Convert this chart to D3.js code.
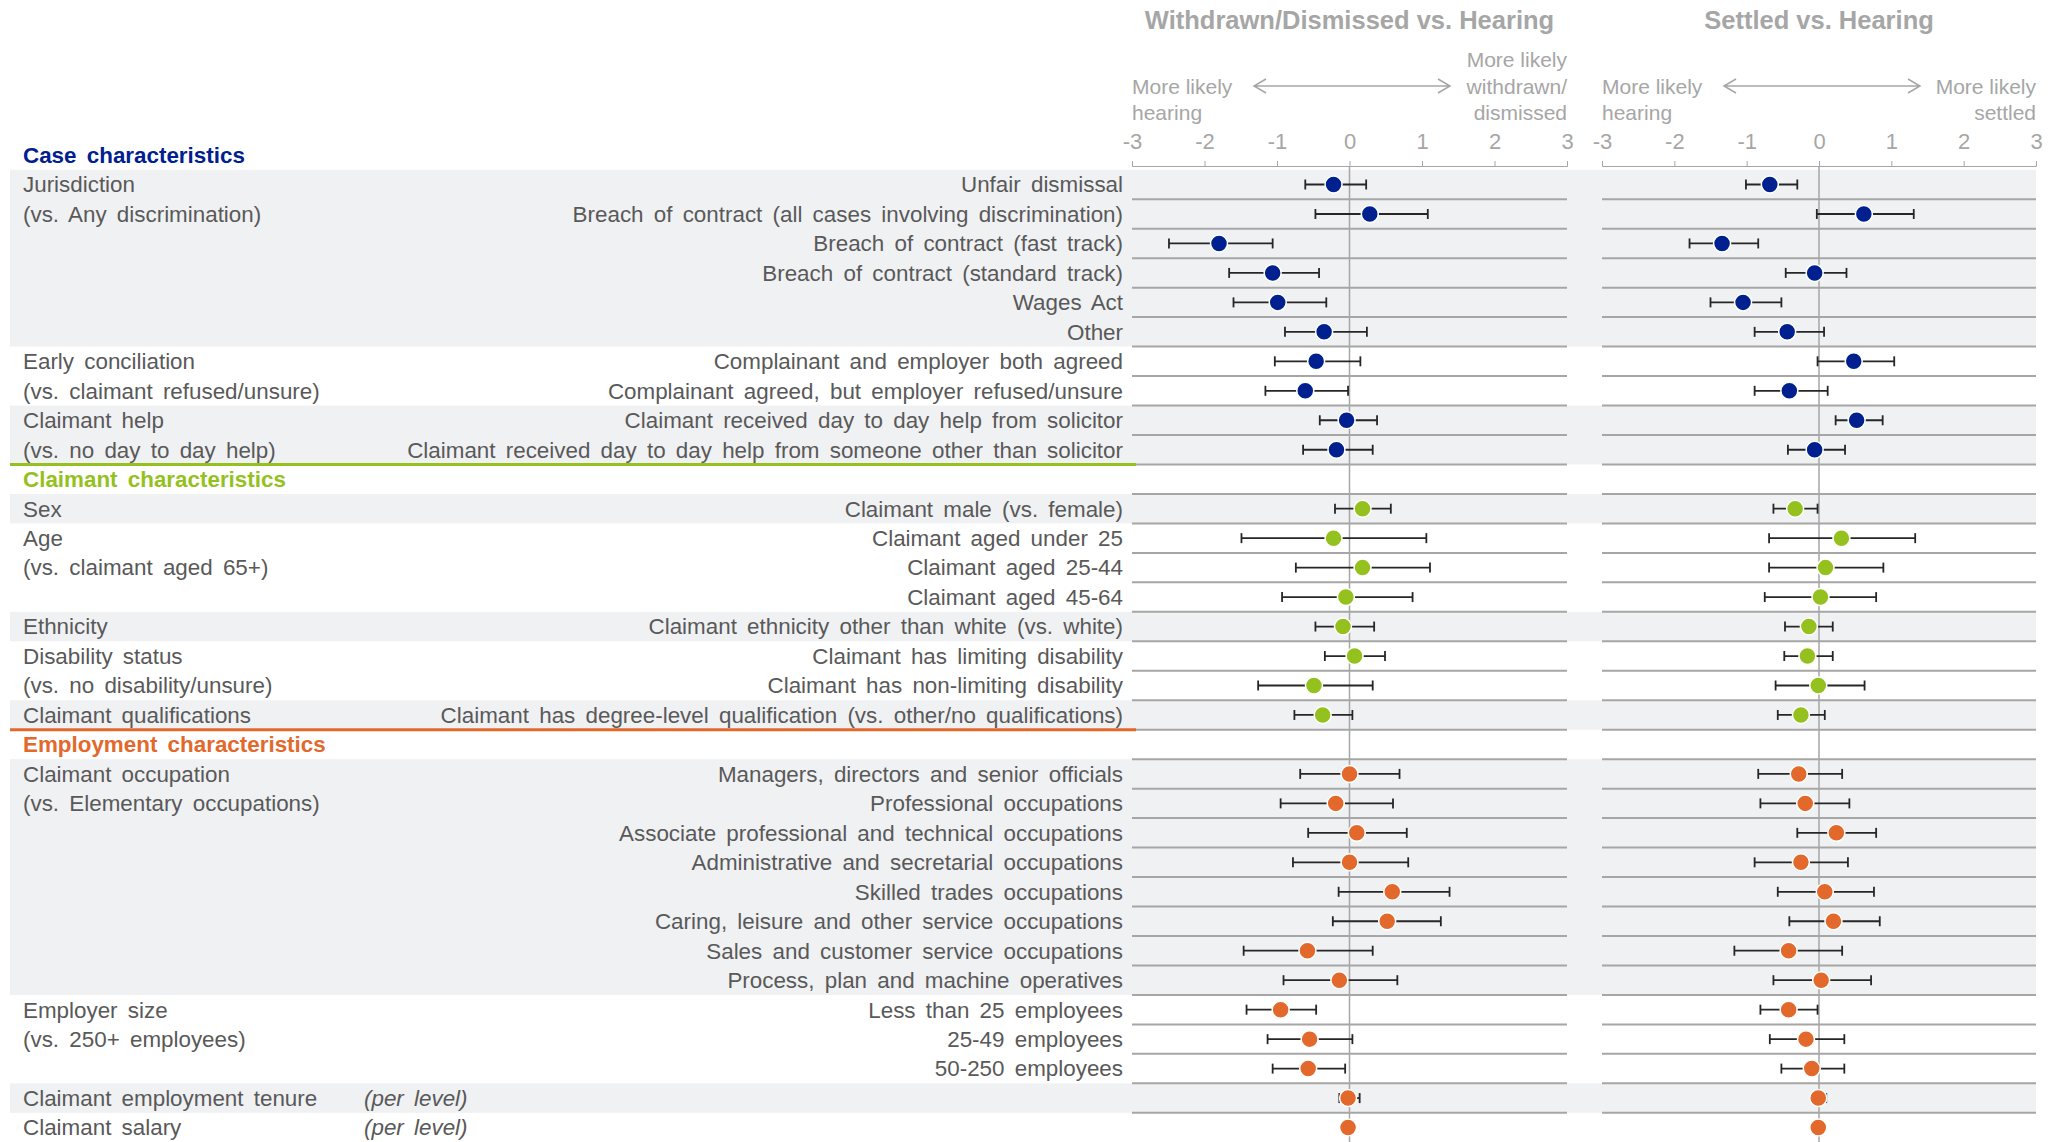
<!DOCTYPE html>
<html>
<head>
<meta charset="utf-8">
<script src="https://cdn.jsdelivr.net/npm/d3@7"></script>
<style>
  body { margin: 0; background: #fff; }
  svg text { font-family: "Liberation Sans", Arial, sans-serif; }
</style>
</head>
<body>
<svg width="2060" height="1142"></svg>
<script>
"use strict";

/* chart data */
var sectionNames = ["Case characteristics", "Claimant characteristics", "Employment characteristics"];

var groupNames = ["Jurisdiction", "Early conciliation", "Claimant help",
  "Sex", "Age", "Ethnicity", "Disability status", "Claimant qualifications",
  "Claimant occupation", "Employer size", "Claimant employment tenure", "Claimant salary"];
var groupNotes = ["(vs. Any discrimination)", "(vs. claimant refused/unsure)", "(vs. no day to day help)",
  "", "(vs. claimant aged 65+)", "", "(vs. no disability/unsure)", "",
  "(vs. Elementary occupations)", "(vs. 250+ employees)", "", ""];
var groupUnits = ["", "", "", "", "", "", "", "", "", "", "(per level)", "(per level)"];
var groupSizes = [6, 2, 2, 1, 3, 1, 2, 1, 8, 3, 1, 1];
var groupSection = [0, 0, 0, 1, 1, 1, 1, 1, 2, 2, 2, 2];

var rowLabels = [
  "Unfair dismissal",
  "Breach of contract (all cases involving discrimination)",
  "Breach of contract (fast track)",
  "Breach of contract (standard track)",
  "Wages Act",
  "Other",
  "Complainant and employer both agreed",
  "Complainant agreed, but employer refused/unsure",
  "Claimant received day to day help from solicitor",
  "Claimant received day to day help from someone other than solicitor",
  "Claimant male (vs. female)",
  "Claimant aged under 25",
  "Claimant aged 25-44",
  "Claimant aged 45-64",
  "Claimant ethnicity other than white (vs. white)",
  "Claimant has limiting disability",
  "Claimant has non-limiting disability",
  "Claimant has degree-level qualification (vs. other/no qualifications)",
  "Managers, directors and senior officials",
  "Professional occupations",
  "Associate professional and technical occupations",
  "Administrative and secretarial occupations",
  "Skilled trades occupations",
  "Caring, leisure and other service occupations",
  "Sales and customer service occupations",
  "Process, plan and machine operatives",
  "Less than 25 employees",
  "25-49 employees",
  "50-250 employees",
  "",
  ""
];

// Withdrawn/Dismissed vs. Hearing
var wdEst  = [-0.22, 0.28, -1.80, -1.06, -0.99, -0.35, -0.46, -0.61, -0.04, -0.18,
  0.18, -0.22, 0.18, -0.05, -0.09, 0.07, -0.49, -0.37,
  0.00, -0.19, 0.10, 0.00, 0.59, 0.52, -0.58, -0.14, -0.95, -0.55, -0.57, -0.02, -0.02];
var wdLow  = [-0.61, -0.47, -2.49, -1.66, -1.60, -0.89, -1.03, -1.16, -0.41, -0.64,
  -0.20, -1.49, -0.74, -0.93, -0.47, -0.34, -1.26, -0.76,
  -0.68, -0.95, -0.57, -0.78, -0.15, -0.23, -1.46, -0.91, -1.42, -1.13, -1.06, -0.14, -0.03];
var wdHigh = [0.23, 1.08, -1.06, -0.42, -0.32, 0.24, 0.15, -0.02, 0.38, 0.32,
  0.57, 1.06, 1.11, 0.87, 0.34, 0.49, 0.32, 0.04,
  0.69, 0.60, 0.79, 0.81, 1.38, 1.26, 0.32, 0.66, -0.46, 0.04, -0.06, 0.14, -0.01];

// Settled vs. Hearing
var stEst  = [-0.68, 0.62, -1.34, -0.06, -1.05, -0.44, 0.48, -0.41, 0.52, -0.06,
  -0.33, 0.31, 0.09, 0.02, -0.14, -0.16, -0.01, -0.25,
  -0.28, -0.19, 0.24, -0.25, 0.08, 0.20, -0.42, 0.03, -0.42, -0.18, -0.10, -0.01, -0.01];
var stLow  = [-1.01, -0.03, -1.79, -0.46, -1.50, -0.89, -0.02, -0.89, 0.23, -0.43,
  -0.63, -0.69, -0.69, -0.75, -0.47, -0.48, -0.60, -0.57,
  -0.84, -0.81, -0.30, -0.89, -0.57, -0.41, -1.17, -0.63, -0.81, -0.68, -0.52, -0.08, -0.02];
var stHigh = [-0.30, 1.31, -0.84, 0.38, -0.52, 0.07, 1.04, 0.12, 0.88, 0.36,
  -0.02, 1.33, 0.89, 0.79, 0.19, 0.19, 0.63, 0.08,
  0.32, 0.42, 0.79, 0.40, 0.76, 0.84, 0.32, 0.72, -0.02, 0.35, 0.35, 0.10, 0.00];

var tickValues = [-3, -2, -1, 0, 1, 2, 3];

/* styles */
var sectionColors = ["#00208f", "#95c11f", "#e2692b"];
var labelColor = "#595959", lightGray = "#a6a6a6", bandColor = "#f0f1f3";

/* layout: one row per header or item */
var rows = [], groups = [], k = 0;
sectionNames.forEach(function(name, s) {
  rows.push({ type: "header", section: s, label: name });
  groupNames.forEach(function(g, gi) {
    if (groupSection[gi] != s) return;
    var start = rows.length, idxInSection = groups.filter(function(d) { return d.section == s; }).length;
    for (var j = 0; j < groupSizes[gi]; j++) {
      rows.push({ type: "data", section: s, index: k, label: rowLabels[k] });
      k++;
    }
    groups.push({ name: g, note: groupNotes[gi], unit: groupUnits[gi], section: s,
      start: start, end: rows.length - 1, shaded: idxInSection % 2 == 0 });
  });
});

var svg = d3.select("svg");

var y = d3.scaleBand()
  .domain(d3.range(rows.length))
  .range([140.3, 140.3 + rows.length * 29.47]);
var yc = function(i) { return y(i) + y.bandwidth() / 2; };
var yTop = function(i) { return 140.3 + i * y.bandwidth(); };

var panels = [
  { title: "Withdrawn/Dismissed vs. Hearing", left: ["More likely", "hearing"],
    right: ["More likely", "withdrawn/", "dismissed"],
    x: d3.scaleLinear().domain([-3, 3]).range([1132, 1567]),
    est: wdEst, lo: wdLow, hi: wdHigh },
  { title: "Settled vs. Hearing", left: ["More likely", "hearing"],
    right: ["More likely", "settled"],
    x: d3.scaleLinear().domain([-3, 3]).range([1602, 2036]),
    est: stEst, lo: stLow, hi: stHigh }
];

// shaded bands
svg.append("g").selectAll("rect")
  .data(groups.filter(function(d) { return d.shaded; }))
  .enter().append("rect")
    .attr("x", 10)
    .attr("width", 2036 - 10)
    .attr("y", function(d) { return y(d.start); })
    .attr("height", function(d) { return y(d.end) + y.bandwidth() - y(d.start); })
    .attr("fill", bandColor);

// row boundaries
var bounds = [];
rows.forEach(function(d, i) {
  if (d.type != "data") return;
  if (i > 1 && bounds.indexOf(i) < 0) bounds.push(i);
  if (i + 1 < rows.length && bounds.indexOf(i + 1) < 0) bounds.push(i + 1);
});

panels.forEach(function(p) {
  var g = svg.append("g");
  var x0 = p.x.range()[0], x1 = p.x.range()[1];

  g.selectAll("line.sep")
    .data(bounds)
    .enter().append("line")
      .attr("class", "sep")
      .attr("x1", x0).attr("x2", x1)
      .attr("y1", function(i) { return yTop(i); })
      .attr("y2", function(i) { return yTop(i); })
      .attr("stroke", lightGray)
      .attr("stroke-width", 2);

  // axis
  var ax = g.append("g")
    .attr("transform", "translate(0,166)")
    .call(d3.axisTop(p.x).tickValues(tickValues).tickSize(5).tickPadding(12)
      .tickFormat(d3.format("d")));
  ax.select(".domain").attr("stroke", lightGray);
  ax.selectAll(".tick line").attr("stroke", lightGray);
  ax.selectAll(".tick text")
    .attr("fill", lightGray)
    .style("font-size", "22px")
    .style("font-family", "'Liberation Sans', Arial, sans-serif")
    .text(function(d) { return d < 0 ? "-" + Math.abs(d) : d; });

  // zero line
  g.append("line")
    .attr("x1", p.x(0)).attr("x2", p.x(0))
    .attr("y1", 166).attr("y2", 1142)
    .attr("stroke", lightGray)
    .attr("stroke-width", 1.5);

  // title
  g.append("text")
    .attr("x", (x0 + x1) / 2)
    .attr("y", 29)
    .attr("text-anchor", "middle")
    .attr("fill", lightGray)
    .attr("font-weight", "bold")
    .style("font-size", "25.5px")
    .text(p.title);

  // direction annotations
  var nl = p.left.length, nr = p.right.length;
  g.selectAll("text.al")
    .data(p.left)
    .enter().append("text")
      .attr("class", "al")
      .attr("x", x0)
      .attr("y", function(d, i) { return 120 - (nl - 1 - i) * 26.5; })
      .attr("fill", lightGray)
      .style("font-size", "21px")
      .text(function(d) { return d; });
  g.selectAll("text.ar")
    .data(p.right)
    .enter().append("text")
      .attr("class", "ar")
      .attr("x", x1)
      .attr("y", function(d, i) { return 120 - (nr - 1 - i) * 26.5; })
      .attr("text-anchor", "end")
      .attr("fill", lightGray)
      .style("font-size", "21px")
      .text(function(d) { return d; });

  var a0 = x0 + 122, a1 = x0 + 318, ay = 86;
  g.append("path")
    .attr("d", "M" + a0 + "," + ay + "H" + a1 +
      "M" + (a0 + 12) + "," + (ay - 7) + "L" + a0 + "," + ay + "L" + (a0 + 12) + "," + (ay + 7) +
      "M" + (a1 - 12) + "," + (ay - 7) + "L" + a1 + "," + ay + "L" + (a1 - 12) + "," + (ay + 7))
    .attr("fill", "none")
    .attr("stroke", lightGray)
    .attr("stroke-width", 1.5);

  // error bars and points
  var dataRows = rows.map(function(d, i) { return { row: d, i: i }; })
    .filter(function(d) { return d.row.type == "data"; });

  var bar = g.selectAll("g.bar")
    .data(dataRows)
    .enter().append("g")
      .attr("class", "bar")
      .attr("transform", function(d) { return "translate(0," + yc(d.i) + ")"; });

  bar.append("line")
    .attr("x1", function(d) { return p.x(p.lo[d.row.index]); })
    .attr("x2", function(d) { return p.x(p.hi[d.row.index]); })
    .attr("stroke", "#262626")
    .attr("stroke-width", 1.8);
  bar.append("line")
    .attr("x1", function(d) { return p.x(p.lo[d.row.index]); })
    .attr("x2", function(d) { return p.x(p.lo[d.row.index]); })
    .attr("y1", -5).attr("y2", 5)
    .attr("stroke", "#262626")
    .attr("stroke-width", 1.8);
  bar.append("line")
    .attr("x1", function(d) { return p.x(p.hi[d.row.index]); })
    .attr("x2", function(d) { return p.x(p.hi[d.row.index]); })
    .attr("y1", -5).attr("y2", 5)
    .attr("stroke", "#262626")
    .attr("stroke-width", 1.8);
  bar.append("circle")
    .attr("cx", function(d) { return p.x(p.est[d.row.index]); })
    .attr("r", 8.5)
    .attr("fill", function(d) { return sectionColors[d.row.section]; })
    .attr("stroke", "#fff")
    .attr("stroke-width", 1.5);
});

// section divider lines
svg.append("g").selectAll("line")
  .data(rows.map(function(d, i) { return { row: d, i: i }; })
    .filter(function(d) { return d.row.type == "header" && d.i > 0; }))
  .enter().append("line")
    .attr("x1", 10).attr("x2", 1136)
    .attr("y1", function(d) { return y(d.i); })
    .attr("y2", function(d) { return y(d.i); })
    .attr("stroke", function(d) { return sectionColors[d.row.section]; })
    .attr("stroke-width", 3);

// left-hand text
var labels = svg.append("g")
  .style("font-size", "22.4px")
  .style("word-spacing", "4px");

labels.selectAll("text.head")
  .data(rows.map(function(d, i) { return { row: d, i: i }; })
    .filter(function(d) { return d.row.type == "header"; }))
  .enter().append("text")
    .attr("class", "head")
    .attr("x", 23)
    .attr("y", function(d) { return yc(d.i); })
    .attr("dy", "0.35em")
    .attr("font-weight", "bold")
    .attr("fill", function(d) { return sectionColors[d.row.section]; })
    .text(function(d) { return d.row.label; });

labels.selectAll("text.item")
  .data(rows.map(function(d, i) { return { row: d, i: i }; })
    .filter(function(d) { return d.row.type == "data"; }))
  .enter().append("text")
    .attr("class", "item")
    .attr("x", 1123)
    .attr("y", function(d) { return yc(d.i); })
    .attr("dy", "0.35em")
    .attr("text-anchor", "end")
    .attr("fill", labelColor)
    .text(function(d) { return d.row.label; });

labels.selectAll("text.group")
  .data(groups)
  .enter().append("text")
    .attr("class", "group")
    .attr("x", 23)
    .attr("y", function(d) { return yc(d.start); })
    .attr("dy", "0.35em")
    .attr("fill", labelColor)
    .text(function(d) { return d.name; });

labels.selectAll("text.note")
  .data(groups.filter(function(d) { return d.note; }))
  .enter().append("text")
    .attr("class", "note")
    .attr("x", 23)
    .attr("y", function(d) { return yc(d.start + 1); })
    .attr("dy", "0.35em")
    .attr("fill", labelColor)
    .text(function(d) { return d.note; });

labels.selectAll("text.unit")
  .data(groups.filter(function(d) { return d.unit; }))
  .enter().append("text")
    .attr("class", "unit")
    .attr("x", 364)
    .attr("y", function(d) { return yc(d.start); })
    .attr("dy", "0.35em")
    .attr("font-style", "italic")
    .attr("fill", labelColor)
    .text(function(d) { return d.unit; });
</script>
</body>
</html>
